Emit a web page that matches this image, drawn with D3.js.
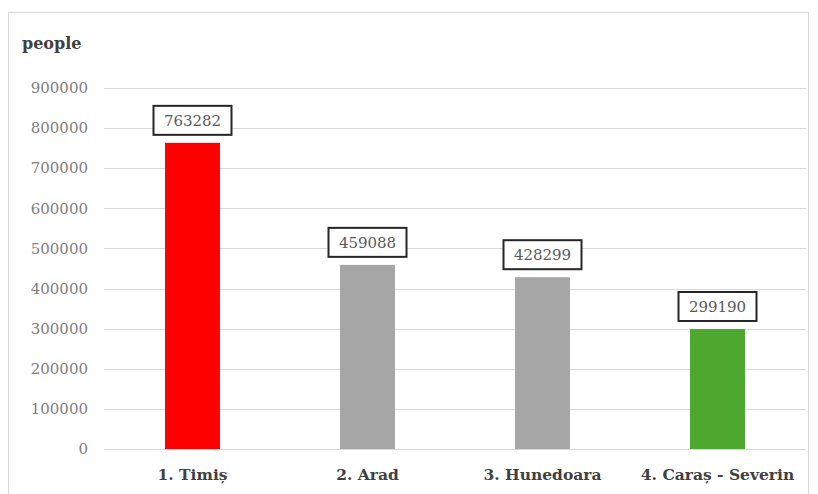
<!DOCTYPE html>
<html>
<head>
<meta charset="utf-8">
<script src="https://cdn.jsdelivr.net/npm/d3@7"></script>
<style>
	body { margin: 0; background: #fff; }
	svg { display: block; }
</style>
</head>
<body>
<svg id="chart" width="818" height="494"></svg>
<script>
// data
const counties = ["1. Timiș", "2. Arad", "3. Hunedoara", "4. Caraș - Severin"];
const population = [763282, 459088, 428299, 299190];
const barColors = ["#ff0000", "#a6a6a6", "#a6a6a6", "#4ea72e"];
const yTicks = [0, 100000, 200000, 300000, 400000, 500000, 600000, 700000, 800000, 900000];

const serif = "'DejaVu Serif', serif";

const svg = d3.select("#chart");
const width = 818, height = 494;
const margin = { top: 88, right: 12, bottom: 45, left: 105 };

// light outer frame
svg.append("rect")
	.attr("x", 8.5).attr("y", 12.5)
	.attr("width", 800).attr("height", 490)
	.attr("fill", "none")
	.attr("stroke", "#d9d9d9");

const x = d3.scaleBand()
	.domain(counties)
	.range([margin.left, width - margin.right - 1])
	.paddingInner(0.686)
	.paddingOuter(0.343);

const y = d3.scaleLinear()
	.domain([0, 900000])
	.range([height - margin.bottom, margin.top]);

// gridlines
svg.append("g")
	.selectAll("line")
	.data(yTicks)
	.join("line")
	.attr("x1", margin.left - 1)
	.attr("x2", width - margin.right)
	.attr("y1", d => Math.round(y(d)) + 0.5)
	.attr("y2", d => Math.round(y(d)) + 0.5)
	.attr("stroke", "#d9d9d9")
	.attr("stroke-width", 1);

// y tick labels
svg.append("g")
	.selectAll("text")
	.data(yTicks)
	.join("text")
	.attr("x", 88)
	.attr("y", d => y(d))
	.attr("dy", "0.35em")
	.attr("text-anchor", "end")
	.style("font-family", serif)
	.attr("font-size", 15)
	.attr("fill", "#808080")
	.text(d => d);

svg.append("text")
	.attr("x", 22).attr("y", 49)
	.style("font-family", serif)
	.attr("font-size", 16)
	.attr("font-weight", "bold")
	.attr("fill", "#404040")
	.text("people");

// bars
svg.append("g")
	.selectAll("rect")
	.data(counties)
	.join("rect")
	.attr("x", d => x(d))
	.attr("y", (d, i) => y(population[i]))
	.attr("width", x.bandwidth())
	.attr("height", (d, i) => y(0) - y(population[i]))
	.attr("fill", (d, i) => barColors[i]);

// value labels in boxes
const lab = svg.append("g")
	.selectAll("g")
	.data(counties)
	.join("g")
	.attr("transform", (d, i) => "translate(" + (x(d) + x.bandwidth() / 2) + "," + (y(population[i]) - 22) + ")");

lab.append("rect")
	.attr("x", -39).attr("y", -15)
	.attr("width", 78).attr("height", 29)
	.attr("fill", "#fff")
	.attr("stroke", "#262626")
	.attr("stroke-width", 2);

lab.append("text")
	.attr("text-anchor", "middle")
	.attr("dy", "0.35em")
	.style("font-family", serif)
	.attr("font-size", 15)
	.attr("fill", "#595959")
	.text((d, i) => population[i]);

// category labels
svg.append("g")
	.selectAll("text")
	.data(counties)
	.join("text")
	.attr("x", d => x(d) + x.bandwidth() / 2)
	.attr("y", 480)
	.attr("text-anchor", "middle")
	.style("font-family", serif)
	.attr("font-size", 15.5)
	.attr("font-weight", "bold")
	.attr("fill", "#404040")
	.text(d => d);
</script>
</body>
</html>
